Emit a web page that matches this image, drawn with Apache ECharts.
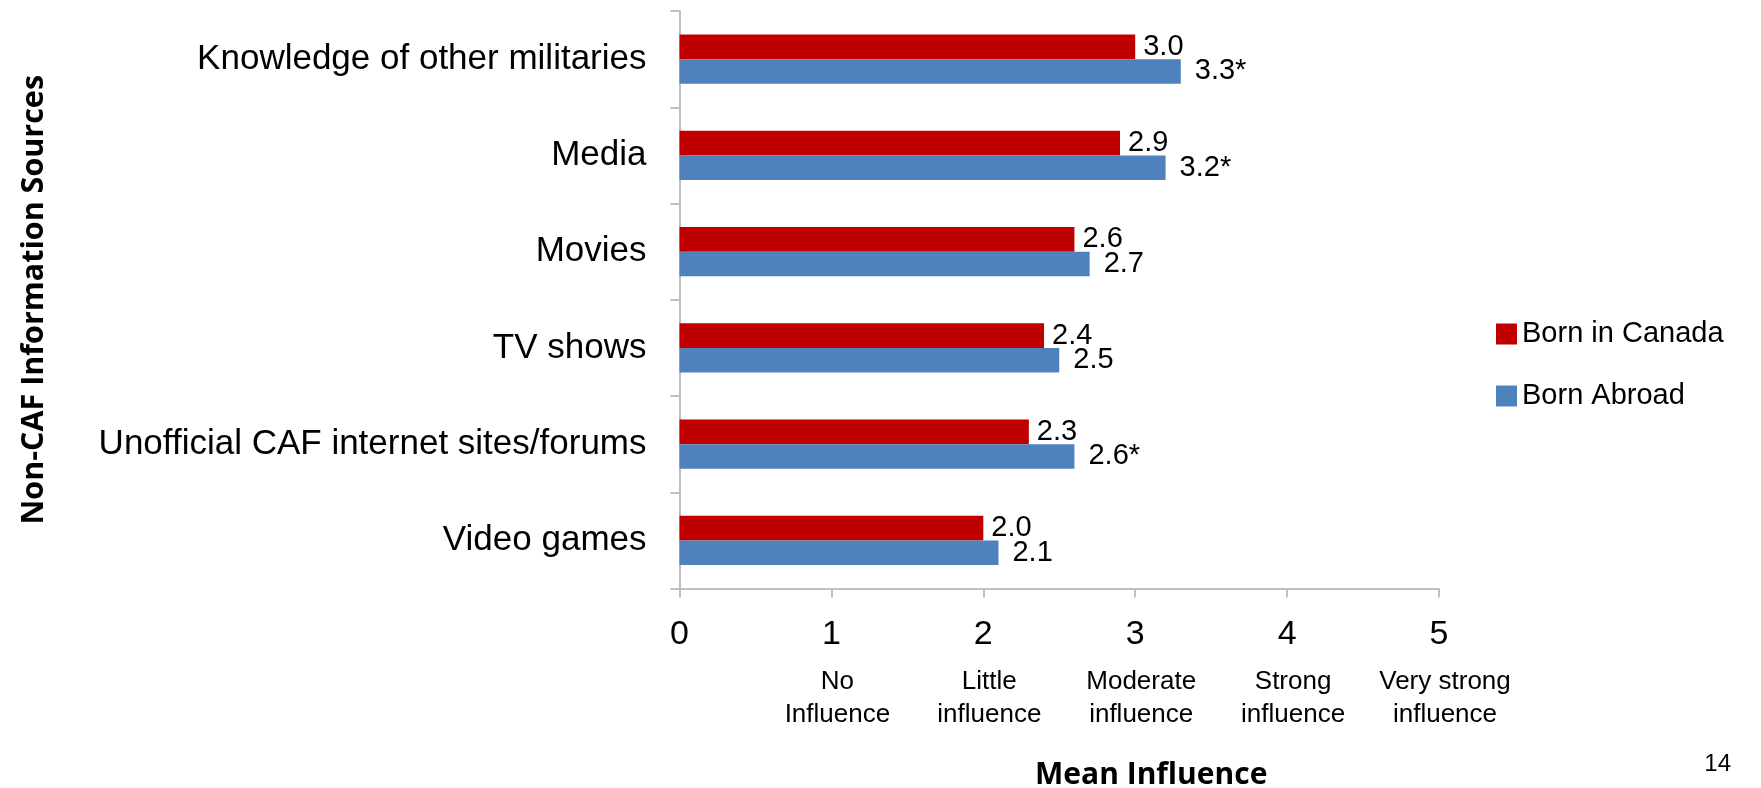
<!DOCTYPE html>
<html>
<head>
<meta charset="utf-8">
<script src="https://cdn.jsdelivr.net/npm/echarts@6/dist/echarts.min.js"></script>
<style>
html,body{margin:0;padding:0;background:#fff;}
#chart{width:1761px;height:788px;}
</style>
</head>
<body>
<div id="chart"></div>
<script>
// ---- data ----
var categories = ['Knowledge of other militaries', 'Media', 'Movies', 'TV shows', 'Unofficial CAF internet sites/forums', 'Video games'];
var bornInCanada = [3.0, 2.9, 2.6, 2.4, 2.3, 2.0];
var bornAbroad = [3.3, 3.2, 2.7, 2.5, 2.6, 2.1];
var abroadSignificant = [true, true, false, false, true, false];
var seriesNames = ['Born in Canada', 'Born Abroad'];
var xTickLabels = ['0', '1', '2', '3', '4', '5'];
var xTickCaptions = ['', 'No\nInfluence', 'Little\ninfluence', 'Moderate\ninfluence', 'Strong\ninfluence', 'Very strong\ninfluence'];
var xAxisTitle = 'Mean Influence';
var yAxisTitle = 'Non-CAF Information Sources';
var pageNumber = '14';

var FONT = '"Liberation Sans", Arial, sans-serif';
var TITLE_FONT = '"Open Sans", "Liberation Sans", sans-serif';
var AXIS_GRAY = '#bfbfbf';

var chart = echarts.init(document.getElementById('chart'), null, {renderer: 'canvas'});

var option = {
  backgroundColor: '#ffffff',
  animation: false,
  textStyle: {fontFamily: FONT, color: '#000'},
  grid: {left: 679.5, right: 322, top: 11, bottom: 199.5, containLabel: false, outerBoundsMode: 'none'},
  legend: {
    data: seriesNames,
    orient: 'vertical',
    left: 1491,
    top: 312,
    itemWidth: 21,
    itemHeight: 21,
    itemGap: 28,
    icon: 'rect',
    textStyle: {fontFamily: FONT, fontSize: 29, color: '#000', lineHeight: 34}
  },
  xAxis: {
    type: 'value',
    min: 0,
    max: 5,
    interval: 1,
    splitLine: {show: false},
    axisLine: {show: true, lineStyle: {color: AXIS_GRAY, width: 2}},
    axisTick: {show: true, length: 9, lineStyle: {color: AXIS_GRAY, width: 2}},
    axisLabel: {
      margin: 15,
      verticalAlign: 'top',
      formatter: function (v) {
        var i = Math.round(v);
        var s = '{num|' + xTickLabels[i] + '}';
        if (xTickCaptions[i]) {
          s += '\n' + xTickCaptions[i].split('\n').map(function (t) { return '{sub|' + t + '}'; }).join('\n');
        }
        return s;
      },
      rich: {
        num: {fontFamily: FONT, fontSize: 34, lineHeight: 62, color: '#000'},
        sub: {fontFamily: FONT, fontSize: 26, lineHeight: 33, color: '#000', padding: [0, 0, 0, 12]}
      }
    },
    name: xAxisTitle,
    nameLocation: 'middle',
    nameGap: 172,
    nameTextStyle: {fontFamily: TITLE_FONT, fontWeight: 'bold', fontSize: 30, color: '#000', padding: [0, 0, 0, 184]}
  },
  yAxis: {
    type: 'category',
    data: categories,
    inverse: true,
    axisLine: {show: true, lineStyle: {color: AXIS_GRAY, width: 2}},
    axisTick: {show: true, length: 9, lineStyle: {color: AXIS_GRAY, width: 2}},
    axisLabel: {margin: 33, fontFamily: FONT, fontSize: 35, color: '#000'},
    name: yAxisTitle,
    nameLocation: 'middle',
    nameGap: 630,
    nameRotate: 90,
    nameTextStyle: {fontFamily: TITLE_FONT, fontWeight: 'bold', fontSize: 30.5, color: '#000'}
  },
  series: [
    {
      name: seriesNames[0],
      type: 'bar',
      data: bornInCanada,
      barCategoryGap: '49%',
      barGap: '0%',
      itemStyle: {color: '#C00000'},
      label: {
        show: true, position: 'right', distance: 8,
        fontFamily: FONT, fontSize: 29, color: '#000',
        formatter: function (p) { return p.value.toFixed(1); }
      }
    },
    {
      name: seriesNames[1],
      type: 'bar',
      data: bornAbroad,
      barCategoryGap: '49%',
      barGap: '0%',
      itemStyle: {color: '#4F81BD'},
      label: {
        show: true, position: 'right', distance: 14,
        fontFamily: FONT, fontSize: 29, color: '#000',
        formatter: function (p) { return p.value.toFixed(1) + (abroadSignificant[p.dataIndex] ? '*' : ''); }
      }
    }
  ],
  graphic: [
    {
      type: 'text',
      right: 30,
      top: 752,
      style: {text: pageNumber, fontFamily: FONT, fontSize: 24, fill: '#000'}
    }
  ]
};

chart.setOption(option);
</script>
</body>
</html>
